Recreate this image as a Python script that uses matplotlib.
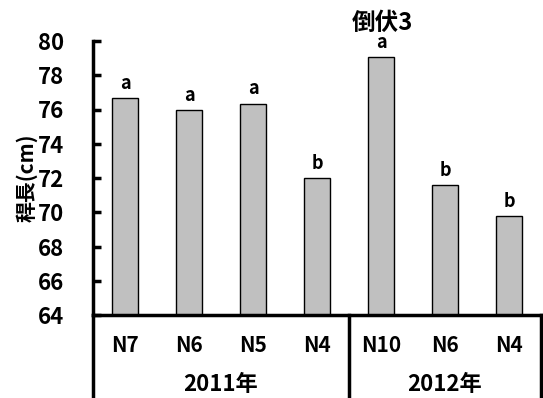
import matplotlib
matplotlib.use("Agg")
import matplotlib.pyplot as plt
import matplotlib.transforms as mtransforms

plt.rcParams['font.family'] = ['Noto Sans CJK JP', 'DejaVu Sans']
plt.rcParams['font.weight'] = 'bold'

categories = ['N7', 'N6', 'N5', 'N4', 'N10', 'N6', 'N4']
values = [76.65, 75.95, 76.35, 72.0, 79.05, 71.6, 69.8]
letters = ['a', 'a', 'a', 'b', 'a', 'b', 'b']
years = ['2011年', '2012年']
year_sizes = [4, 3]

fig = plt.figure(figsize=(5.43, 3.98), dpi=100)
ax = fig.add_axes([93 / 543, 83 / 398, 448 / 543, 274 / 398])

x = list(range(len(categories)))
ax.bar(x, values, width=0.42, bottom=0, color='#c0c0c0', edgecolor='black', linewidth=1.0)
for xi, v, l in zip(x, values, letters):
    ax.text(xi, v + 0.3, l, ha='center', va='bottom', fontsize=13, fontweight='bold')

ax.set_ylim(64, 80)
ax.set_xlim(-0.5, len(categories) - 0.5)
ax.set_yticks(range(64, 81, 2))
ax.tick_params(axis='y', direction='in', length=6, width=2.5, labelsize=16, pad=21)
ax.set_xticks([])
for s in ['top', 'right']:
    ax.spines[s].set_visible(False)
ax.spines['left'].set_linewidth(2.5)
ax.spines['bottom'].set_linewidth(2.5)
ax.set_ylabel('稈長(cm)', fontsize=15, fontweight='bold', labelpad=0)

trans = mtransforms.blended_transform_factory(ax.transData, ax.transAxes)
# separator lines below the axis
start = -0.5
for n in year_sizes:
    ax.plot([start, start], [0, -0.31], color='black', lw=2.5, transform=trans, clip_on=False)
    start += n
ax.plot([start, start], [0, -0.31], color='black', lw=2.5, transform=trans, clip_on=False)

for xi, c in zip(x, categories):
    ax.text(xi, -0.11, c, transform=trans, ha='center', va='center', fontsize=15, fontweight='bold')

start = -0.5
for y, n in zip(years, year_sizes):
    ax.text(start + n / 2, -0.255, y, transform=trans, ha='center', va='center', fontsize=16, fontweight='bold')
    start += n

fig.text(382 / 543, 1 - 23 / 398, '倒伏3', ha='center', va='center', fontsize=17, fontweight='bold')

fig.savefig('out.png', dpi=100)
